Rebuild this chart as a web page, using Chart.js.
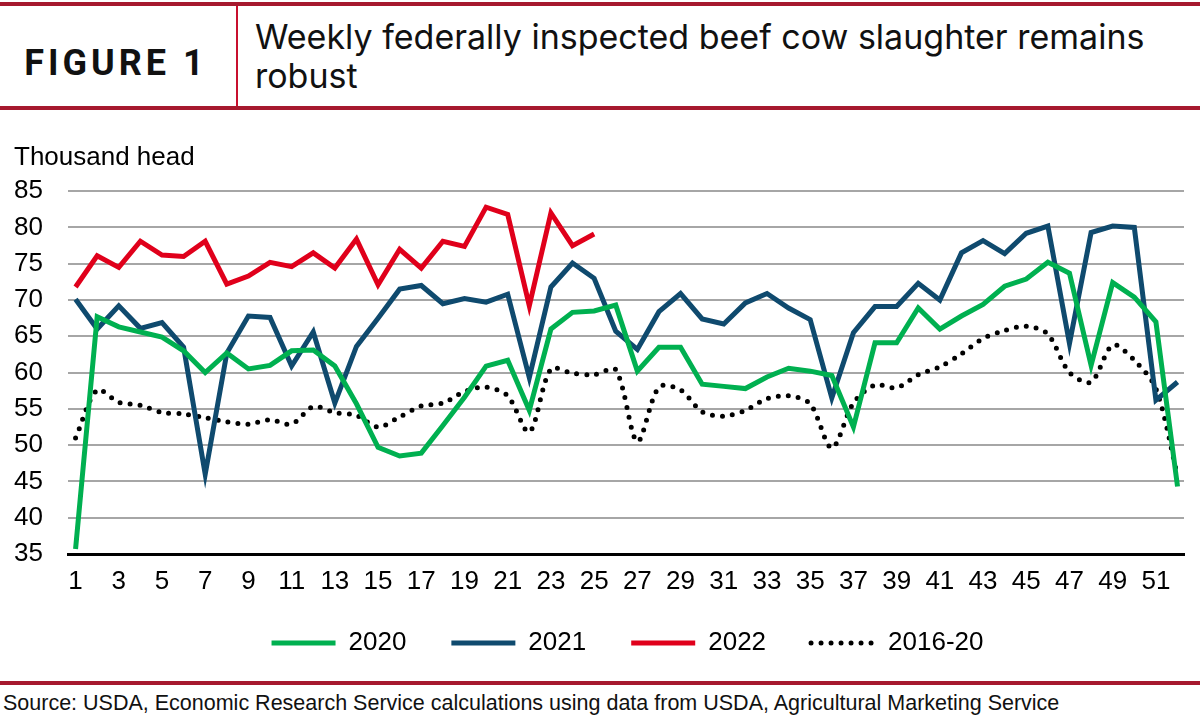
<!DOCTYPE html>
<html>
<head>
<meta charset="utf-8">
<script src="https://cdn.jsdelivr.net/npm/chart.js@4.4.1/dist/chart.umd.min.js"></script>
<style>
  html, body { margin: 0; padding: 0; background: #fff; }
  body { width: 1200px; height: 722px; position: relative; overflow: hidden; }
  .bar { position: absolute; left: 0; width: 1200px; background: #a6192e; }
  #vline { position: absolute; left: 236px; top: 6px; width: 2px; height: 100px; background: #c8102e; }
  #fig { position: absolute; left: 0; top: 45px; width: 232px; text-align: center;
         font: 700 36px/36px Roboto, sans-serif; letter-spacing: 4px; color: #111; }
  #title { position: absolute; left: 255px; top: 17px; width: 940px;
           font: 400 34px/39px Inter, sans-serif; color: #111; }
  #chart { position: absolute; left: 0; top: 140px; }
  #source { position: absolute; left: 3px; top: 691px; white-space: nowrap;
            font: 21.5px/24px "Liberation Sans", Arial, sans-serif; color: #111; }
</style>
</head>
<body>
<div class="bar" style="top:2px;height:4px"></div>
<div id="vline"></div>
<div id="fig">FIGURE 1</div>
<div id="title">Weekly federally inspected beef cow slaughter remains<br>robust</div>
<div class="bar" style="top:106px;height:4px"></div>
<canvas id="chart" width="1200" height="539"></canvas>
<div class="bar" style="top:681px;height:4px"></div>
<div id="source">Source: USDA, Economic Research Service calculations using data from USDA, Agricultural Marketing Service</div>

<script>
// week numbers
const weeks = [1, 2, 3, 4, 5, 6, 7, 8, 9, 10, 11, 12, 13, 14, 15, 16, 17, 18, 19, 20,
  21, 22, 23, 24, 25, 26, 27, 28, 29, 30, 31, 32, 33, 34, 35, 36, 37, 38, 39, 40,
  41, 42, 43, 44, 45, 46, 47, 48, 49, 50, 51, 52];
const weekTicks = [1, 3, 5, 7, 9, 11, 13, 15, 17, 19, 21, 23, 25, 27, 29, 31, 33, 35,
  37, 39, 41, 43, 45, 47, 49, 51];
const yTicks = [35, 40, 45, 50, 55, 60, 65, 70, 75, 80, 85];

// thousand head
const y2020 = [35.7, 67.7, 66.3, 65.6, 64.9, 63.0, 60.0, 62.7, 60.5, 61.0,
  63.0, 63.1, 60.9, 55.7, 49.7, 48.5, 48.9, 52.7, 56.6, 60.9,
  61.7, 54.8, 66.0, 68.3, 68.5, 69.3, 60.2, 63.5, 63.5, 58.4,
  58.1, 57.8, 59.4, 60.6, 60.2, 59.6, 52.5, 64.1, 64.1, 68.9,
  66.0, 67.8, 69.4, 71.9, 72.9, 75.2, 73.7, 61.0, 72.4, 70.4,
  67.0, 44.3];
const y2021 = [70.1, 66.0, 69.2, 66.1, 66.9, 63.5, 46.0, 62.7, 67.8, 67.6,
  60.9, 65.6, 55.8, 63.6, 67.5, 71.5, 72.0, 69.5, 70.2, 69.7,
  70.8, 59.3, 71.8, 75.1, 73.0, 65.7, 63.2, 68.4, 70.9, 67.4,
  66.7, 69.6, 70.9, 68.9, 67.3, 56.5, 65.5, 69.1, 69.1, 72.3,
  70.0, 76.5, 78.2, 76.4, 79.2, 80.2, 64.0, 79.3, 80.2, 80.0,
  56.2, 58.7];
const y2022 = [71.8, 76.1, 74.5, 78.1, 76.2, 76.0, 78.1, 72.2, 73.3, 75.2,
  74.6, 76.5, 74.4, 78.4, 72.1, 77.0, 74.4, 78.1, 77.4, 82.8,
  81.8, 69.2, 82.0, 77.5, 79.1];
const avg1620 = [51.0, 57.6, 55.9, 55.5, 54.5, 54.3, 53.8, 53.2, 52.9, 53.5,
  52.9, 55.3, 54.5, 54.1, 52.5, 53.9, 55.4, 55.8, 57.4, 58.0,
  56.8, 51.8, 60.5, 59.9, 59.7, 60.4, 50.5, 58.0, 57.6, 54.6,
  54.0, 54.8, 56.4, 56.8, 55.7, 49.6, 55.8, 58.3, 57.9, 59.7,
  60.8, 62.6, 64.7, 65.8, 66.4, 65.3, 60.0, 58.7, 63.8, 61.7,
  57.8, 45.8];

const toPoints = (vals) => vals.map((v, i) => ({ x: weeks[i], y: v }));

Chart.defaults.font.family = "'Liberation Sans', Arial, sans-serif";
Chart.defaults.color = '#000';

// move the legend a little: right and up, like the original
const legendShift = {
  id: 'legendShift',
  afterLayout(chart) {
    chart.legend.left += 57;
    chart.legend.top -= 13;
  }
};

// legend swatches drawn as line segments in each dataset's own style
function lineLabels(chart) {
  return Chart.defaults.plugins.legend.labels.generateLabels(chart).map((item) => {
    const ds = chart.data.datasets[item.datasetIndex];
    item.pointStyle = 'line';
    item.strokeStyle = ds.borderColor;
    item.lineWidth = ds.borderWidth;
    item.lineDash = ds.borderDash || [];
    item.lineCap = ds.borderCapStyle || 'butt';
    item.fontColor = '#000';
    return item;
  });
}

new Chart(document.getElementById('chart'), {
  type: 'line',
  data: {
    datasets: [
      { label: '2020', data: toPoints(y2020), borderColor: '#00b050', borderWidth: 5, tension: 0 },
      { label: '2021', data: toPoints(y2021), borderColor: '#0f4a6e', borderWidth: 5, tension: 0 },
      { label: '2022', data: toPoints(y2022), borderColor: '#e0001b', borderWidth: 5, tension: 0 },
      { label: '2016-20', data: toPoints(avg1620), borderColor: '#000', borderWidth: 5,
        borderDash: [0, 10], borderCapStyle: 'round', tension: 0.3 }
    ]
  },
  options: {
    responsive: false,
    animation: false,
    elements: { point: { radius: 0 } },
    layout: { padding: { left: 14, right: 16, top: 0, bottom: 0 } },
    scales: {
      x: {
        type: 'linear', min: 0.65, max: 52.3,
        afterBuildTicks: (axis) => { axis.ticks = weekTicks.map(v => ({ value: v })); },
        afterFit: (axis) => { axis.height = 44; },
        grid: { display: false, drawTicks: false },
        border: { display: true, color: '#000', width: 3 },
        ticks: { font: { size: 26 }, padding: 12, maxRotation: 0, autoSkip: false }
      },
      y: {
        min: 35, max: 85,
        afterBuildTicks: (axis) => { axis.ticks = yTicks.map(v => ({ value: v })); },
        afterFit: (axis) => { axis.width = 54; },
        grid: { color: (c) => c.tick && c.tick.value === 35 ? '#000' : '#a6a6a6', lineWidth: 2, drawTicks: false },
        border: { display: false },
        ticks: { font: { size: 26 }, padding: 25, autoSkip: false }
      }
    },
    plugins: {
      title: { display: true, text: 'Thousand head', align: 'start',
               font: { size: 26, weight: 'normal' }, color: '#000', padding: { top: 2, bottom: 18 } },
      legend: {
        position: 'bottom',
        labels: { usePointStyle: true, pointStyle: 'line', pointStyleWidth: 64,
                  padding: 45, font: { size: 26 }, color: '#000', generateLabels: lineLabels }
      },
      tooltip: { enabled: false }
    }
  },
  plugins: [legendShift]
});
</script>
</body>
</html>
